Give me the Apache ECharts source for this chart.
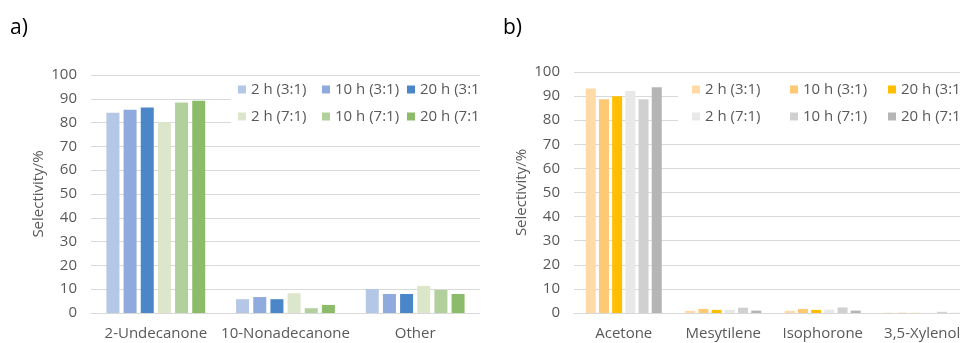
<!DOCTYPE html>
<html>
<head>
<meta charset="utf-8">
<script src="https://cdn.jsdelivr.net/npm/echarts@6/dist/echarts.min.js"></script>
<style>
  html, body { margin: 0; padding: 0; background: #fff; }
  #wrap { position: relative; width: 960px; height: 343px; overflow: hidden; }
  #a { position: absolute; left: 0; top: 0; width: 480px; height: 343px; }
  #b { position: absolute; left: 480px; top: 0; width: 500px; height: 343px; }
</style>
</head>
<body>
<div id="wrap"><div id="a"></div><div id="b"></div></div>
<script>
// ---- data ----
const seriesNames = ['2 h (3:1)', '10 h (3:1)', '20 h (3:1)', '2 h (7:1)', '10 h (7:1)', '20 h (7:1)'];
const yTicks = [0, 10, 20, 30, 40, 50, 60, 70, 80, 90, 100];

// panel a)
const catsA = ['2-Undecanone', '10-Nonadecanone', 'Other'];
const a_2h_31  = [84.1, 5.8, 10.1];
const a_10h_31 = [85.4, 6.7, 8.0];
const a_20h_31 = [86.3, 5.8, 8.0];
const a_2h_71  = [80.1, 8.3, 11.4];
const a_10h_71 = [88.4, 2.0, 9.7];
const a_20h_71 = [89.2, 3.4, 8.0];

// panel b)
const catsB = ['Acetone', 'Mesytilene', 'Isophorone', '3,5-Xylenol'];
const b_2h_31  = [93.2, 0.9, 0.9, 0.1];
const b_10h_31 = [88.7, 1.7, 1.7, 0.1];
const b_20h_31 = [89.9, 1.3, 1.3, 0.05];
const b_2h_71  = [92.1, 1.3, 1.4, 0.05];
const b_10h_71 = [88.7, 2.2, 2.3, 0.5];
const b_20h_71 = [93.7, 1.0, 1.0, 0.05];

const colorsA = ['#B4C7E7', '#8FAADC', '#4A86C8', '#DCE6CB', '#B1D09B', '#8CBB6A'];
const colorsB = ['#FFD9A6', '#FFC973', '#FFBF00', '#E8E8E8', '#D0D0D0', '#B5B5B5'];

const FONT = '"Open Sans", sans-serif';
const FS = 15;
const TXT = '#595959';
const GRID = '#D9D9D9';

function legends(names, lefts, top) {
  const out = [];
  for (let c = 0; c < 3; c++) {
    out.push({
      orient: 'vertical', left: lefts[c], top: top, padding: 0,
      itemWidth: 8, itemHeight: 8, itemGap: 12, icon: 'rect', z: 10,
      data: [names[c], names[c + 3]],
      selectedMode: false,
      textStyle: { fontFamily: FONT, fontSize: FS, color: TXT }
    });
  }
  return out;
}

function build(el, cfg) {
  const chart = echarts.init(el, null, { renderer: 'canvas' });
  const series = cfg.data.map((d, i) => ({
    name: seriesNames[i], type: 'bar', data: d,
    barWidth: cfg.barWidth, barGap: '32%',
    itemStyle: { color: cfg.colors[i] },
    emphasis: { disabled: true }, z: 2
  }));
  chart.setOption({
    animation: false,
    title: { text: cfg.title, left: cfg.titleLeft, top: 18, padding: 0,
      textStyle: { fontFamily: FONT, fontSize: 21, fontWeight: 'normal', color: '#000' } },
    graphic: [{ type: 'rect', z: 5, shape: cfg.bgRect, style: { fill: '#fff' } }],
    legend: legends(seriesNames, cfg.legendLefts, 82),
    grid: { left: cfg.gridLeft, width: cfg.gridWidth, top: cfg.gridTop, bottom: 30, containLabel: false },
    xAxis: {
      type: 'category', data: cfg.cats,
      axisLine: { lineStyle: { color: GRID, width: 1 } },
      axisTick: { show: false },
      axisLabel: { fontFamily: FONT, fontSize: FS, color: TXT, margin: 13, interval: 0 }
    },
    yAxis: {
      type: 'value', min: yTicks[0], max: yTicks[yTicks.length - 1], interval: 10,
      name: 'Selectivity/%', nameLocation: 'middle', nameGap: 45, nameRotate: 90,
      nameMoveOverlap: false,
      nameTextStyle: { fontFamily: FONT, fontSize: FS, color: TXT },
      axisLine: { show: false }, axisTick: { show: false },
      axisLabel: { fontFamily: FONT, fontSize: FS, color: TXT, margin: 14 },
      splitLine: { lineStyle: { color: GRID, width: 1 } }
    },
    series: series
  });
}

build(document.getElementById('a'), {
  title: 'a)', titleLeft: 10,
  cats: catsA, data: [a_2h_31, a_10h_31, a_20h_31, a_2h_71, a_10h_71, a_20h_71],
  colors: colorsA, barWidth: 13,
  gridLeft: 91, gridWidth: 390, gridTop: 75,
  legendLefts: [238, 322, 407],
  bgRect: { x: 231, y: 80, width: 260, height: 55 }
});

build(document.getElementById('b'), {
  title: 'b)', titleLeft: 23,
  cats: catsB, data: [b_2h_31, b_10h_31, b_20h_31, b_2h_71, b_10h_71, b_20h_71],
  colors: colorsB, barWidth: 10,
  gridLeft: 94, gridWidth: 398, gridTop: 72,
  legendLefts: [212, 310, 408],
  bgRect: { x: 198, y: 78, width: 310, height: 57 }
});
</script>
</body>
</html>
